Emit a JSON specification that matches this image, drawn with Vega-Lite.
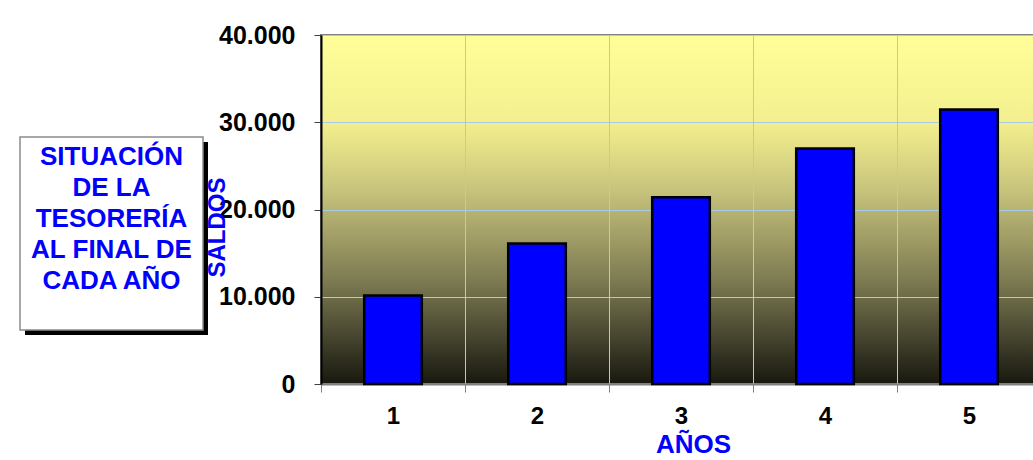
{
  "$schema": "https://vega.github.io/schema/vega-lite/v6.json",
  "background": "white",
  "padding": {"left": 19, "top": 22, "right": 0, "bottom": 0},
  "center": true,
  "bounds": "flush",
  "spacing": 118,
  "config": {
    "view": {"stroke": null},
    "font": "Liberation Sans"
  },
  "hconcat": [
    {
      "width": 183,
      "height": 193,
      "data": {"values": [{}]},
      "layer": [
        {
          "mark": {"type": "rect", "fill": "black", "xOffset": 5, "x2Offset": 5, "yOffset": 29, "y2Offset": 29},
          "encoding": {
            "x": {"datum": 0, "type": "quantitative", "scale": {"domain": [0, 1], "nice": false}, "axis": null},
            "x2": {"datum": 1},
            "y": {"datum": 0, "type": "quantitative", "scale": {"domain": [0, 1], "nice": false}, "axis": null},
            "y2": {"datum": 1}
          }
        },
        {
          "mark": {"type": "rect", "fill": "white", "stroke": "#8c8c8c", "strokeWidth": 1.5, "yOffset": 24, "y2Offset": 24},
          "encoding": {
            "x": {"datum": 0, "type": "quantitative"},
            "x2": {"datum": 1},
            "y": {"datum": 0, "type": "quantitative"},
            "y2": {"datum": 1}
          }
        },
        {
          "mark": {
            "type": "text",
            "text": ["SITUACIÓN", "DE LA", "TESORERÍA", "AL FINAL DE", "CADA AÑO"],
            "font": "Liberation Sans",
            "fontSize": 26,
            "fontWeight": "bold",
            "color": "#0000ff",
            "lineHeight": 31,
            "align": "center",
            "dy": -53
          },
          "encoding": {}
        }
      ]
    },
    {
      "width": 720,
      "height": 349,
      "view": {
        "stroke": "#808080",
        "strokeWidth": 2,
        "fill": {
          "gradient": "linear",
          "x1": 0, "y1": 0, "x2": 0, "y2": 1,
          "stops": [
            {"offset": 0, "color": "#ffff99"},
            {"offset": 0.25, "color": "#f3ef8f"},
            {"offset": 0.33, "color": "#e2de86"},
            {"offset": 0.45, "color": "#c6c27b"},
            {"offset": 0.57, "color": "#a3a068"},
            {"offset": 0.71, "color": "#7b7950"},
            {"offset": 0.85, "color": "#4b4a32"},
            {"offset": 1, "color": "#18180f"}
          ]
        }
      },
      "data": {
        "values": [
          {"anio": "1", "saldo": 10150},
          {"anio": "2", "saldo": 16100},
          {"anio": "3", "saldo": 21400},
          {"anio": "4", "saldo": 27000},
          {"anio": "5", "saldo": 31450}
        ]
      },
      "mark": {"type": "bar", "fill": "#0000ff", "stroke": "black", "strokeWidth": 2.5, "width": {"band": 0.4}},
      "encoding": {
        "x": {
          "field": "anio",
          "type": "ordinal",
          "scale": {"paddingInner": 0, "paddingOuter": 0},
          "axis": {
            "title": "AÑOS",
            "labelAngle": 0,
            "tickBand": "extent",
            "grid": true,
            "gridColor": "#a8cce4",
            "gridWidth": 1,
            "tickSize": 8,
            "tickColor": "#808080",
            "domainColor": "#808080",
            "domainWidth": 2,
            "labelFont": "Liberation Sans",
            "labelFontSize": 24,
            "labelFontWeight": "bold",
            "labelColor": "black",
            "labelPadding": 12,
            "titleFont": "Liberation Sans",
            "titleFontSize": 26,
            "titleFontWeight": "bold",
            "titleColor": "#0000ff",
            "titlePadding": 3,
            "titleX": 372
          }
        },
        "y": {
          "field": "saldo",
          "type": "quantitative",
          "scale": {"domain": [0, 40000]},
          "axis": {
            "title": "SALDOS",
            "values": [0, 10000, 20000, 30000, 40000],
            "labelExpr": "replace(format(datum.value, ','), ',', '.')",
            "grid": true,
            "gridColor": "#a8cce4",
            "gridWidth": 1,
            "tickSize": 7,
            "tickColor": "#404040",
            "domainColor": "black",
            "domainWidth": 2,
            "labelFont": "Liberation Sans",
            "labelFontSize": 25,
            "labelFontWeight": "bold",
            "labelColor": "black",
            "labelPadding": 19,
            "titleFont": "Liberation Sans",
            "titleFontSize": 24,
            "titleFontWeight": "bold",
            "titleColor": "#0000ff",
            "titleAngle": -90,
            "titleBaseline": "alphabetic",
            "titleX": -97,
            "titleY": 192
          }
        }
      }
    }
  ]
}
